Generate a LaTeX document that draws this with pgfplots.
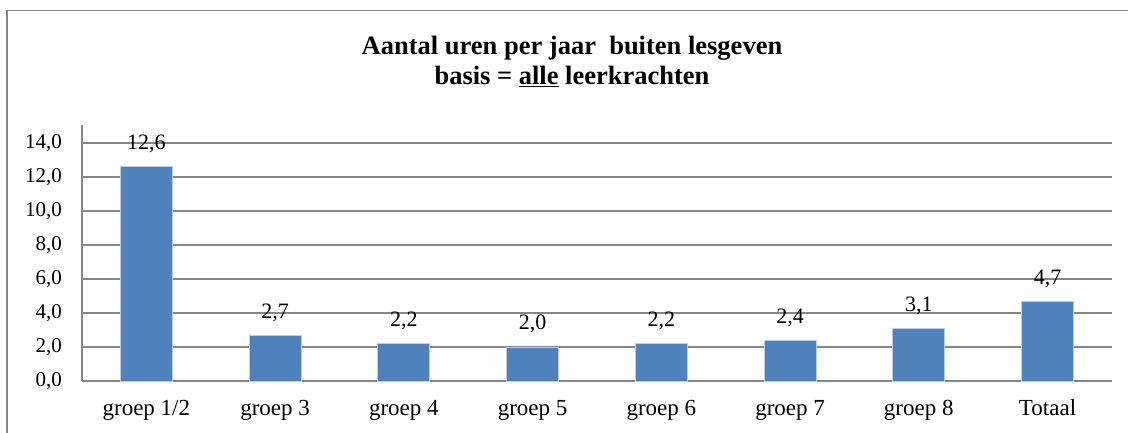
\documentclass[border=0pt]{standalone}
\usepackage{pgfplots}
\pgfplotsset{compat=1.18}
\usepackage{fontspec}
\setmainfont{Liberation Serif}
\definecolor{barblue}{RGB}{79,129,189}
\definecolor{baredge}{RGB}{185,205,229}
\definecolor{gridgray}{RGB}{134,134,134}
\definecolor{framegray}{RGB}{134,134,134}
\begin{document}
\begin{tikzpicture}[x=1pt,y=1pt]
\clip (0,0) rectangle (1128,432);
\draw[framegray, line width=1.5pt] (7,-20) -- (7,421.5) -- (1160,421.5);
\node[font=\bfseries\fontsize{26.5}{30}\selectfont, align=center, inner sep=0pt] at (572,371) {Aantal uren per jaar\ \ buiten lesgeven\\basis = \underline{alle} leerkrachten};
\begin{axis}[
  at={(82pt,51pt)}, anchor=south west,
  scale only axis, width=1030pt, height=256pt,
  ymin=0, ymax=15.05, xmin=-0.5, xmax=7.5,
  ytick={0,2,...,14},
  xtick=data,
  xticklabels={groep 1/2, groep 3, groep 4, groep 5, groep 6, groep 7, groep 8, Totaal},
  ymajorgrids, grid style={gridgray, line width=1.5pt},
  axis x line=bottom, axis y line=left,
  axis line style={-, gridgray, line width=1.5pt},
  major tick length=0pt,
  tick style={draw=none},
  /pgf/number format/.cd, fixed, fixed zerofill, precision=1, use comma, assume math mode=true,
  /pgfplots/.cd,
  yticklabel style={font=\fontsize{21}{24}\selectfont, anchor=east, inner sep=0pt, xshift=-20pt},
  xticklabel style={font=\fontsize{23}{26}\selectfont, anchor=base, inner sep=0pt, yshift=-34pt},
  ybar, bar width=52pt,
  nodes near coords={\pgfmathprintnumber[fixed,fixed zerofill,precision=1,use comma,assume math mode=true]{\pgfplotspointmeta}},
  nodes near coords style={font=\fontsize{22}{24}\selectfont, anchor=base, inner sep=0pt, yshift=17pt, text=black},
  clip=false,
]
\addplot[fill=barblue, draw=baredge, line width=0.8pt] coordinates {
  (0,12.6) (1,2.7) (2,2.2) (3,2.0) (4,2.2) (5,2.4) (6,3.1) (7,4.7)
};
\end{axis}
\end{tikzpicture}
\end{document}
